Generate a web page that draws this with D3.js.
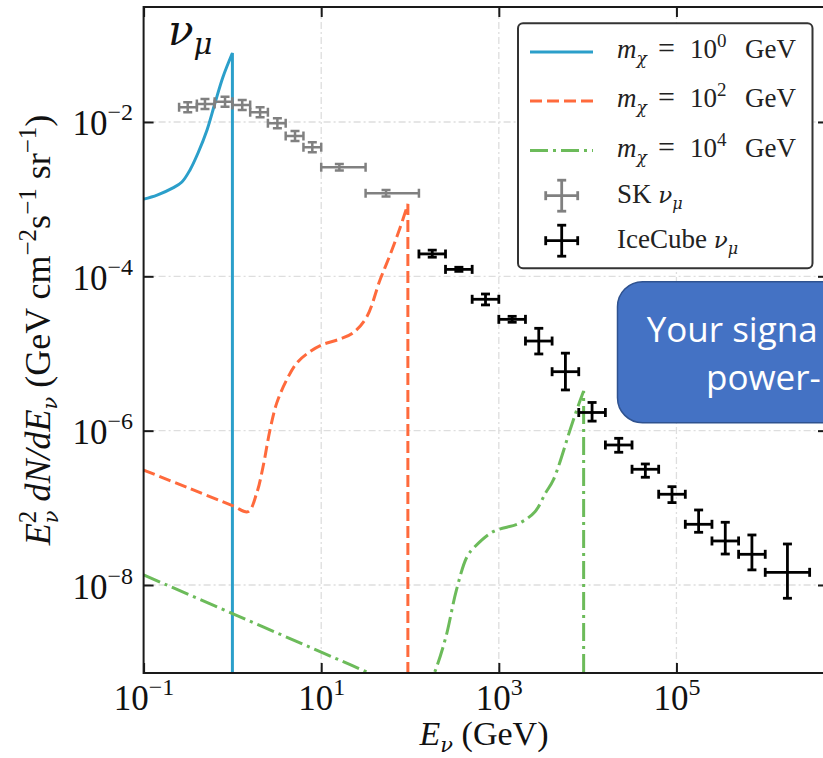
<!DOCTYPE html>
<html>
<head>
<meta charset="utf-8">
<script src="https://cdn.jsdelivr.net/npm/d3@7/dist/d3.min.js"></script>
<style>
html,body{margin:0;padding:0;background:#fff;overflow:hidden;}
svg{display:block;}
text{white-space:pre;}
</style>
</head>
<body>
<svg id="chart" width="823" height="758"></svg>
<script>
// ---------- axis limits & ticks ----------
const xLimits = [0.1, 5.09e6];
const yLimits = [7.24e-10, 0.309];
const xTickValues = [1e-1, 1e1, 1e3, 1e5];
const xTickExponents = ["−1", "1", "3", "5"];
const yTickValues = [1e-8, 1e-6, 1e-4, 1e-2];
const yTickExponents = ["−8", "−6", "−4", "−2"];

// ---------- dark-matter signal curves (E [GeV], E^2 dN/dE) ----------
const massExponents = ["0", "2", "4"];
const m1E    = [0.1, 0.142, 0.214, 0.270, 0.333, 0.410, 0.518, 0.637, 0.783, 1.0];
const m1Flux = [1.0e-3, 1.13e-3, 1.40e-3, 1.67e-3, 2.39e-3, 3.96e-3, 7.87e-3, 1.76e-2, 3.83e-2, 7.83e-2];
const m100E    = [0.1, 0.316, 1.0, 1.50, 1.88, 2.21, 2.65, 3.16, 4.08, 5.30, 7.48, 10.1, 16.3, 22.8, 32.5, 45.9, 59.6, 77.1, 94.6];
const m100Flux = [3.09e-7, 1.82e-7, 1.07e-7, 8.91e-8, 1.56e-7, 3.38e-7, 1.02e-6, 2.29e-6, 4.54e-6, 7.53e-6, 1.06e-5, 1.29e-5, 1.54e-5, 1.85e-5, 2.97e-5, 8.95e-5, 1.89e-4, 4.23e-4, 8.65e-4];
const m1e4E    = [0.1, 1, 10, 31.6, 100, 141, 188, 254, 333, 439, 536, 861, 1698, 2553, 3350, 4111, 6339, 7534, 9016];
const m1e4Flux = [1.35e-8, 4.27e-9, 1.35e-9, 7.59e-10, 4.27e-10, 3.59e-10, 7.24e-10, 2.14e-9, 8.61e-9, 2.33e-8, 3.13e-8, 4.91e-8, 6.31e-8, 8.91e-8, 1.55e-7, 2.30e-7, 1.02e-6, 1.85e-6, 3.27e-6];

// ---------- Super-Kamiokande nu_mu data ----------
const skE      = [0.314, 0.491, 0.826, 1.29, 2.05, 3.21, 5.07, 7.94, 16.0, 53.7];
const skELow   = [0.251, 0.398, 0.631, 1.0, 1.585, 2.51, 3.98, 6.31, 10.0, 31.6];
const skEHigh  = [0.398, 0.631, 1.0, 1.585, 2.51, 3.98, 6.31, 10.0, 31.6, 126];
const skFlux   = [1.55e-2, 1.71e-2, 1.83e-2, 1.66e-2, 1.34e-2, 9.62e-3, 6.59e-3, 4.70e-3, 2.59e-3, 1.19e-3];
const skFluxLow  = [1.34e-2, 1.47e-2, 1.58e-2, 1.43e-2, 1.15e-2, 8.29e-3, 5.68e-3, 4.05e-3, 2.35e-3, 1.08e-3];
const skFluxHigh = [1.80e-2, 1.98e-2, 2.12e-2, 1.93e-2, 1.55e-2, 1.12e-2, 7.64e-3, 5.45e-3, 2.85e-3, 1.31e-3];

// ---------- IceCube nu_mu data ----------
const icE     = [178, 355, 708, 1413, 2818, 5623, 11220, 22390, 44670, 89130, 177800, 354800, 707900, 1778000];
const icELow  = [126, 251, 501, 1000, 1995, 3981, 7943, 15850, 31620, 63100, 125900, 251200, 501200, 1000000];
const icEHigh = [251, 501, 1000, 1995, 3981, 7943, 15850, 31620, 63100, 125900, 251200, 501200, 1000000, 3162000];
const icFlux     = [1.95e-4, 1.23e-4, 5.04e-5, 2.77e-5, 1.45e-5, 5.81e-6, 1.72e-6, 6.52e-7, 3.16e-7, 1.50e-7, 6.12e-8, 3.72e-8, 2.50e-8, 1.46e-8];
const icFluxLow  = [1.77e-4, 1.16e-4, 4.26e-5, 2.54e-5, 9.86e-6, 3.37e-6, 1.33e-6, 5.25e-7, 2.49e-7, 1.17e-7, 4.82e-8, 2.52e-8, 1.57e-8, 6.73e-9];
const icFluxHigh = [2.19e-4, 1.31e-4, 5.90e-5, 3.03e-5, 2.12e-5, 1.01e-5, 2.32e-6, 7.96e-7, 3.70e-7, 1.88e-7, 9.38e-8, 6.50e-8, 4.45e-8, 3.40e-8];

// ---------- texts ----------
const flavourLabel = ["ν", "μ"];
const calloutLines = ["Your signa", "power-"];

// ================= drawing =================
const serif = "'Liberation Serif', 'Times New Roman', serif";
const greek = "'DejaVu Serif', serif";
const svg = d3.select("#chart");
const L = 143.6, R = 828, T = 7, B = 673;
const x = d3.scaleLog().domain(xLimits).range([L, R]);
const y = d3.scaleLog().domain(yLimits).range([B, T]);

const colors = ["#2b9fca", "#ff6a3c", "#6cbb5a"];
const dashes = [null, "12,5", "18,5,3,5"];

svg.append("defs").append("clipPath").attr("id", "plotclip")
  .append("rect").attr("x", L).attr("y", T).attr("width", R - L).attr("height", B - T);

// grid
const grid = svg.append("g").attr("stroke", "#dedede").attr("stroke-width", 1.3).attr("stroke-dasharray", "7,3,2,3");
grid.selectAll(".gx").data(xTickValues.slice(1)).join("line")
  .attr("x1", d => x(d)).attr("x2", d => x(d)).attr("y1", T).attr("y2", B);
grid.selectAll(".gy").data(yTickValues).join("line")
  .attr("y1", d => y(d)).attr("y2", d => y(d)).attr("x1", L).attr("x2", R);

// curves
const plot = svg.append("g").attr("clip-path", "url(#plotclip)");
const line = d3.line().x(d => x(d[0])).y(d => y(d[1])).curve(d3.curveCatmullRom.alpha(0.5));
const curveSets = [[m1E, m1Flux], [m100E, m100Flux], [m1e4E, m1e4Flux]];
curveSets.forEach(([E, F], i) => {
  const pts = E.map((e, k) => [e, F[k]]);
  plot.append("path")
    .attr("d", line(pts) + "V" + (B + 30))
    .attr("fill", "none").attr("stroke", colors[i]).attr("stroke-width", 3)
    .attr("stroke-dasharray", dashes[i]);
});

// error bars
function errorBars(g, E, El, Eh, F, Fl, Fh, color, w) {
  const cap = 4.5;
  E.forEach((e, i) => {
    const cx = x(e), cy = y(F[i]);
    const x0 = x(El[i]), x1 = x(Eh[i]), y0 = y(Fl[i]), y1 = y(Fh[i]);
    const gg = g.append("g").attr("stroke", color).attr("stroke-width", w).attr("fill", "none");
    gg.append("line").attr("x1", x0).attr("x2", x1).attr("y1", cy).attr("y2", cy);
    gg.append("line").attr("x1", cx).attr("x2", cx).attr("y1", y0).attr("y2", y1);
    gg.append("line").attr("x1", x0).attr("x2", x0).attr("y1", cy - cap).attr("y2", cy + cap);
    gg.append("line").attr("x1", x1).attr("x2", x1).attr("y1", cy - cap).attr("y2", cy + cap);
    gg.append("line").attr("x1", cx - cap).attr("x2", cx + cap).attr("y1", y0).attr("y2", y0);
    gg.append("line").attr("x1", cx - cap).attr("x2", cx + cap).attr("y1", y1).attr("y2", y1);
  });
}
errorBars(plot, skE, skELow, skEHigh, skFlux, skFluxLow, skFluxHigh, "#808080", 2.5);
errorBars(plot, icE, icELow, icEHigh, icFlux, icFluxLow, icFluxHigh, "#000000", 2.8);

// axes
function styleAxis(g) {
  g.select(".domain").remove();
  g.selectAll(".tick line").attr("stroke", "#1a1a1a").attr("stroke-width", 2);
}
const gb = svg.append("g").attr("transform", `translate(0,${B})`)
  .call(d3.axisBottom(x).tickValues(xTickValues).tickSize(-10).tickSizeOuter(0));
styleAxis(gb);
gb.attr("font-size", null).attr("font-family", null);
gb.selectAll(".tick text").each(function (d, i) {
  const t = d3.select(this).text(null).attr("y", 37).attr("dy", null)
    .attr("font-family", serif).attr("font-size", 35).attr("fill", "#111").attr("text-anchor", "middle");
  t.append("tspan").text("10");
  t.append("tspan").attr("dy", -15).attr("font-size", 24).text(xTickExponents[i]);
});
const gt = svg.append("g").attr("transform", `translate(0,${T})`)
  .call(d3.axisTop(x).tickValues(xTickValues).tickSize(-10).tickSizeOuter(0).tickFormat(""));
styleAxis(gt);
const gl = svg.append("g").attr("transform", `translate(${L},0)`)
  .call(d3.axisLeft(y).tickValues(yTickValues).tickSize(-10).tickSizeOuter(0));
styleAxis(gl);
gl.attr("font-size", null).attr("font-family", null);
gl.selectAll(".tick text").each(function (d, i) {
  const t = d3.select(this).text(null).attr("x", -10.5).attr("y", 13).attr("dy", null)
    .attr("font-family", serif).attr("font-size", 35).attr("fill", "#111").attr("text-anchor", "end");
  t.append("tspan").text("10");
  t.append("tspan").attr("dy", -15).attr("font-size", 24).text(yTickExponents[i]);
});
const gr = svg.append("g").attr("transform", `translate(${R},0)`)
  .call(d3.axisRight(y).tickValues(yTickValues).tickSize(-10).tickSizeOuter(0).tickFormat(""));
styleAxis(gr);

// frame
svg.append("rect").attr("x", L).attr("y", T).attr("width", R - L).attr("height", B - T)
  .attr("fill", "none").attr("stroke", "#1a1a1a").attr("stroke-width", 2);

// axis labels
const xl = svg.append("text").attr("x", 484).attr("y", 745).attr("text-anchor", "middle")
  .attr("font-family", serif).attr("font-size", 34).attr("fill", "#111");
xl.append("tspan").attr("font-style", "italic").text("E");
xl.append("tspan").attr("font-style", "italic").attr("font-family", greek).attr("font-size", 21).attr("dy", 7).text("ν");
xl.append("tspan").attr("dy", -7).text(" (GeV)");

const yl = svg.append("text").attr("transform", "translate(50,330) rotate(-90)").attr("text-anchor", "middle")
  .attr("font-family", serif).attr("font-size", 36).attr("fill", "#111");
yl.append("tspan").attr("font-style", "italic").text("E");
yl.append("tspan").attr("font-size", 25).attr("dy", -14).text("2");
yl.append("tspan").attr("font-size", 21).attr("font-family", greek).attr("font-style", "italic").attr("dx", -12.5).attr("dy", 22).text("ν");
yl.append("tspan").attr("dy", -8).attr("font-style", "italic").text(" dN/dE");
yl.append("tspan").attr("font-size", 21).attr("font-family", greek).attr("font-style", "italic").attr("dy", 7).text("ν");
yl.append("tspan").attr("dy", -7).text(" (GeV cm");
yl.append("tspan").attr("font-size", 25).attr("dy", -14).text("−2");
yl.append("tspan").attr("dy", 14).text("s");
yl.append("tspan").attr("font-size", 25).attr("dy", -14).text("−1");
yl.append("tspan").attr("dy", 14).text(" sr");
yl.append("tspan").attr("font-size", 25).attr("dy", -14).text("−1");
yl.append("tspan").attr("dy", 14).text(")");

// flavour label
const fl = svg.append("text").attr("x", 168).attr("y", 45).attr("font-family", greek)
  .attr("font-size", 42).attr("font-style", "italic").attr("fill", "#111");
fl.append("tspan").text(flavourLabel[0]);
fl.append("tspan").attr("font-size", 29).attr("dy", 9).text(flavourLabel[1]);

// legend
const lg = svg.append("g");
lg.append("rect").attr("x", 518).attr("y", 23.3).attr("width", 294.5).attr("height", 245)
  .attr("rx", 5).attr("fill", "#fff").attr("stroke", "#333").attr("stroke-width", 2);
const rowY = [58, 107, 156.5, 203, 248];
massExponents.forEach((ex, i) => {
  lg.append("line").attr("x1", 530).attr("x2", 593).attr("y1", rowY[i] - 6).attr("y2", rowY[i] - 6)
    .attr("stroke", colors[i]).attr("stroke-width", 3).attr("stroke-dasharray", dashes[i]);
  const t = lg.append("text").attr("x", 617).attr("y", rowY[i]).attr("font-family", serif)
    .attr("font-size", 27).attr("fill", "#222");
  t.append("tspan").attr("font-style", "italic").text("m");
  t.append("tspan").attr("font-style", "italic").attr("font-family", greek).attr("font-size", 17).attr("dy", 6).text("χ");
  t.append("tspan").attr("x", 658).attr("dy", -6).attr("font-size", 30).text("=");
  t.append("tspan").attr("x", 690).text("10");
  t.append("tspan").attr("font-size", 19).attr("dy", -11).text(ex);
  t.append("tspan").attr("x", 745).attr("dy", 11).text("GeV");
});
function legendMarker(cx, cy, color) {
  const g = lg.append("g").attr("stroke", color).attr("stroke-width", 2.8);
  g.append("line").attr("x1", cx - 16).attr("x2", cx + 16).attr("y1", cy).attr("y2", cy);
  g.append("line").attr("x1", cx).attr("x2", cx).attr("y1", cy - 15.5).attr("y2", cy + 15.5);
  g.append("line").attr("x1", cx - 16).attr("x2", cx - 16).attr("y1", cy - 4.5).attr("y2", cy + 4.5);
  g.append("line").attr("x1", cx + 16).attr("x2", cx + 16).attr("y1", cy - 4.5).attr("y2", cy + 4.5);
  g.append("line").attr("x1", cx - 4.5).attr("x2", cx + 4.5).attr("y1", cy - 15.5).attr("y2", cy - 15.5);
  g.append("line").attr("x1", cx - 4.5).attr("x2", cx + 4.5).attr("y1", cy + 15.5).attr("y2", cy + 15.5);
}
legendMarker(561.7, 195.7, "#808080");
legendMarker(561.7, 240.7, "#000");
[["SK", 3], ["IceCube", 4]].forEach(([name, r]) => {
  const t = lg.append("text").attr("x", 617).attr("y", rowY[r]).attr("font-family", serif)
    .attr("font-size", 27).attr("fill", "#222");
  t.append("tspan").text(name + " ");
  t.append("tspan").attr("font-style", "italic").attr("font-family", greek).attr("font-size", 23).text("ν");
  t.append("tspan").attr("font-style", "italic").attr("font-family", greek).attr("font-size", 16).attr("dy", 6).text("μ");
});

// callout box (slide overlay)
svg.append("rect").attr("x", 617.5).attr("y", 281.7).attr("width", 420).attr("height", 141)
  .attr("rx", 25).attr("fill", "#4472C4").attr("stroke", "#2F528F").attr("stroke-width", 1.5);
svg.append("text").attr("x", 646.7).attr("y", 341.7).attr("font-family", "'Open Sans', sans-serif")
  .attr("font-size", 35).attr("fill", "#fff").text(calloutLines[0]);
svg.append("text").attr("x", 706).attr("y", 390).attr("font-family", "'Open Sans', sans-serif")
  .attr("font-size", 35).attr("fill", "#fff").text(calloutLines[1]);
</script>
</body>
</html>
